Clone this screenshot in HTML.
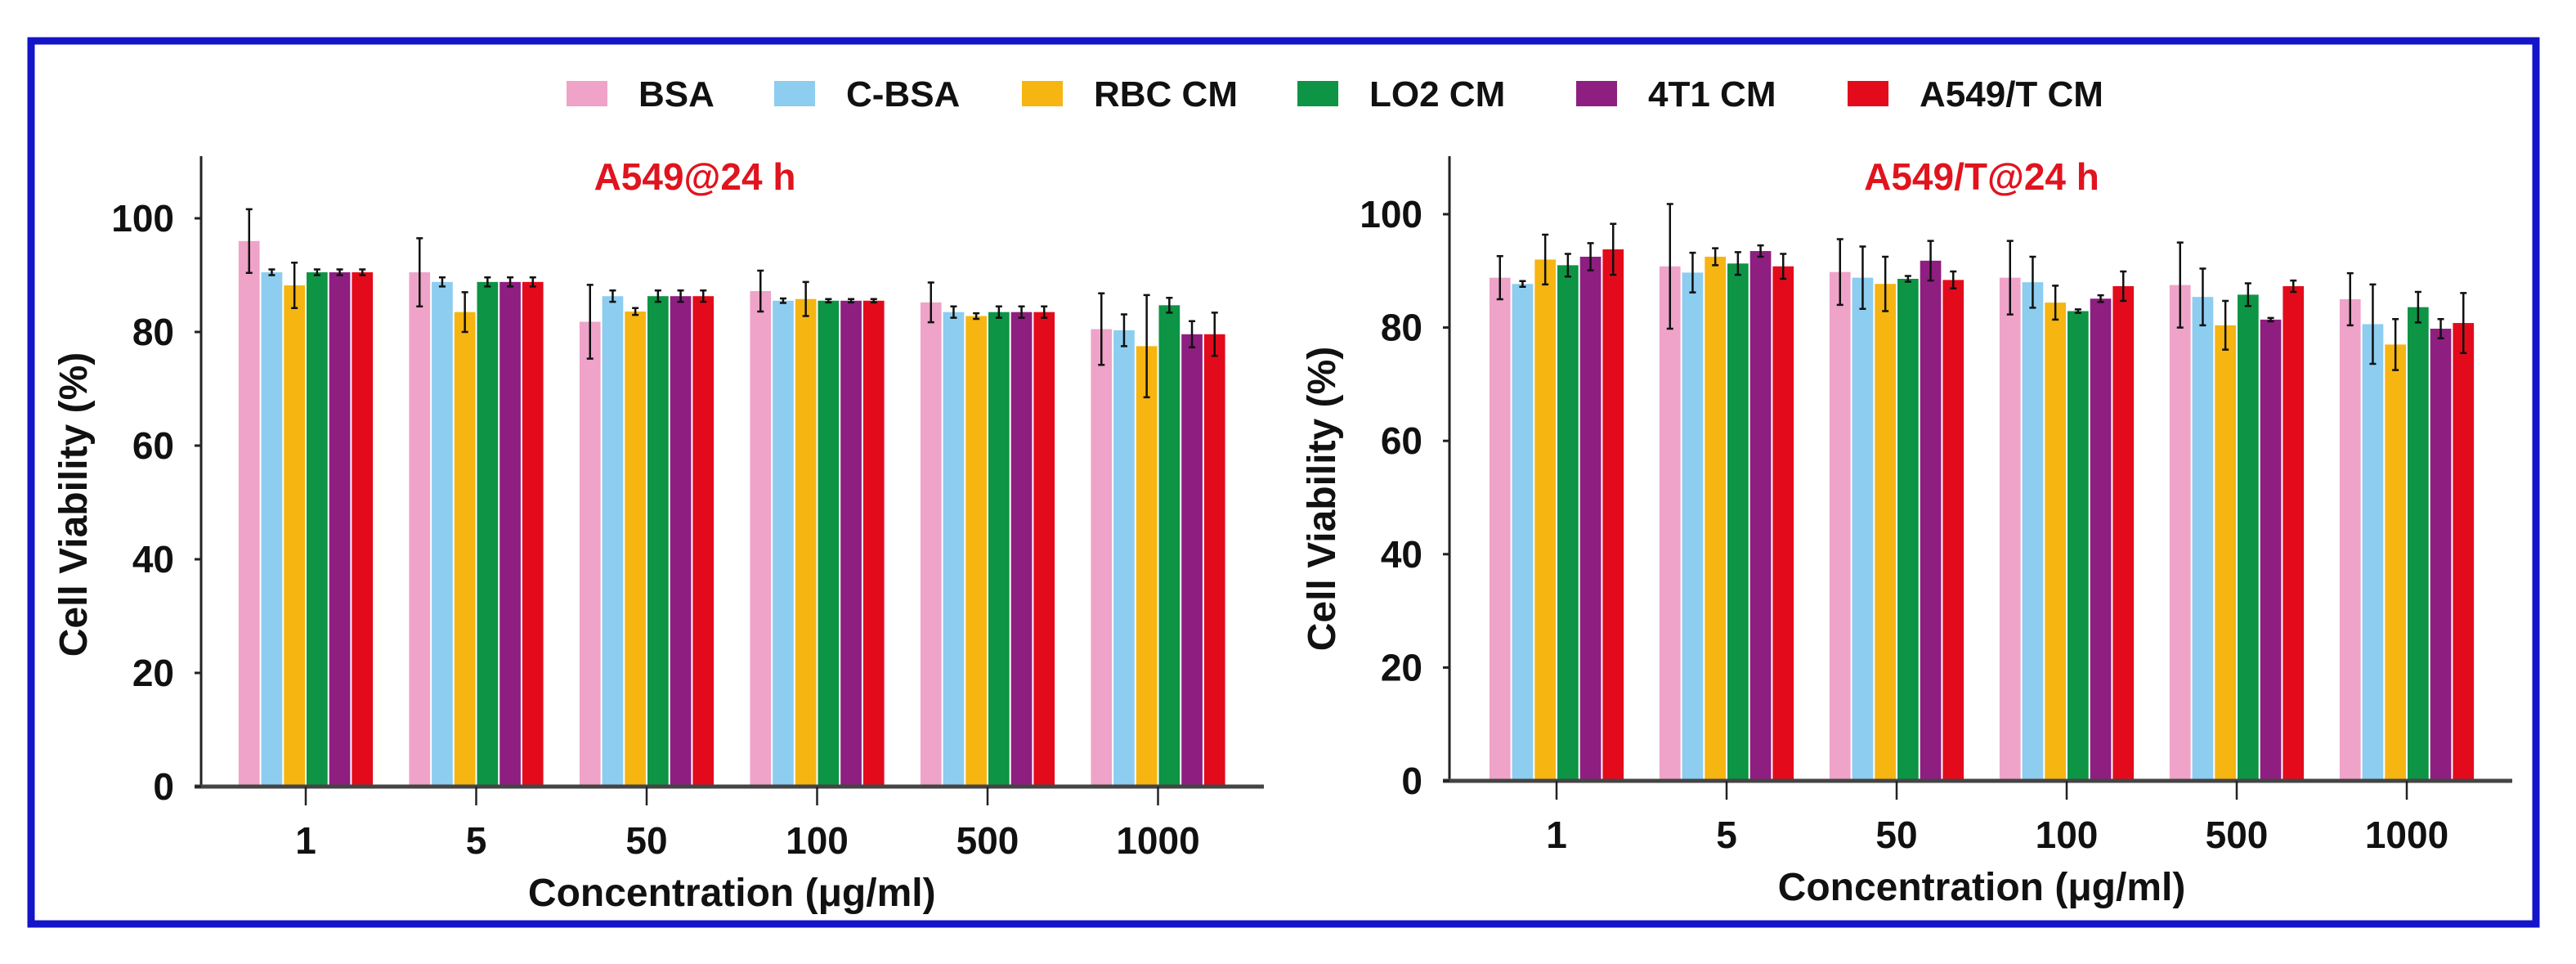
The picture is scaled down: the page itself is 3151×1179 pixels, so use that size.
<!DOCTYPE html>
<html><head><meta charset="utf-8"><style>
html,body{margin:0;padding:0;background:#fff;}
svg{display:block;font-family:"Liberation Sans",sans-serif;font-weight:bold;}
</style></head><body>
<svg id="fig" width="3151" height="1179" viewBox="0 0 3151 1179" xmlns="http://www.w3.org/2000/svg">
<rect x="38" y="50" width="3064" height="1080" fill="none" stroke="#1414c8" stroke-width="9"/>
<g id="legend"></g>
<g id="left"></g>
<g id="right"></g>
</svg>
<script>
const seriesNames = ["BSA","C-BSA","RBC CM","LO2 CM","4T1 CM","A549/T CM"];
const seriesColors = ["#efa3c8","#8dcdf0","#f7b512","#0d9444","#8e1f80","#e30b1b"];
const categories = ["1","5","50","100","500","1000"];
const yTicks = [0,20,40,60,80,100];
// A549@24 h: rows = series, cols = categories
const leftValues = [
 [96,90.5,81.8,87.2,85.2,80.5],
 [90.5,88.8,86.3,85.5,83.5,80.3],
 [88.2,83.5,83.6,85.8,82.8,77.5],
 [90.5,88.8,86.3,85.5,83.5,84.7],
 [90.5,88.8,86.3,85.5,83.5,79.6],
 [90.5,88.8,86.3,85.5,83.5,79.6]
];
const leftErrors = [
 [5.6,6,6.5,3.6,3.5,6.3],
 [0.5,0.8,1,0.4,1,2.8],
 [4,3.5,0.6,3,0.5,9],
 [0.5,0.8,1,0.3,1,1.3],
 [0.5,0.8,1,0.3,1,2.3],
 [0.5,0.8,1,0.3,1,3.8]
];
// A549/T@24 h
const rightValues = [
 [88.8,90.8,89.8,88.8,87.5,85],
 [87.7,89.7,88.8,88,85.4,80.6],
 [92,92.5,87.7,84.4,80.4,77],
 [91,91.3,88.6,82.9,85.8,83.6],
 [92.5,93.5,91.8,85.1,81.4,79.8],
 [93.8,90.8,88.4,87.3,87.3,80.8]
];
const rightErrors = [
 [3.8,11,5.8,6.5,7.5,4.6],
 [0.5,3.5,5.5,4.5,5,7],
 [4.4,1.5,4.8,3,4.3,4.5],
 [2,2,0.5,0.3,2,2.7],
 [2.4,1,3.5,0.6,0.3,1.7],
 [4.5,2.2,1.5,2.6,1,5.3]
];
const NS="http://www.w3.org/2000/svg";
function mk(tag,attrs,parent,text){const e=document.createElementNS(NS,tag);for(const k in attrs)e.setAttribute(k,attrs[k]);if(text!==undefined)e.textContent=text;parent.appendChild(e);return e;}

// legend
const lg=document.getElementById('legend');
const legX=[693,947,1250,1587,1928,2260];
seriesNames.forEach((n,i)=>{
  const r=mk('rect',{x:legX[i],y:99,width:50,height:31,fill:seriesColors[i]},lg);
  
  
  const t=mk('text',{x:legX[i]+88,y:130,'font-size':44,fill:'#111'},lg,n);
  
  
});

function panel(g,cfg,values,errors){
  const y=v=>cfg.y0-(v/20)*cfg.step;
  const x=i=>cfg.c0+i*cfg.gap;
  const bw=27.7;
  // title
  const tt=mk('text',{x:cfg.tx,y:232,'font-size':46,fill:'#e0141e','text-anchor':'middle'},g,cfg.title);
  
  
  // bars
  for(let s=0;s<6;s++){for(let c=0;c<6;c++){
    const bx=x(c)-3*bw+s*bw;
    const b=mk('rect',{x:bx+1,y:y(values[s][c]),width:bw-2,height:cfg.y0-y(values[s][c]),fill:seriesColors[s]},g);
    
    
    const cx=bx+bw/2,hi=y(values[s][c]+errors[s][c]),lo=y(values[s][c]-errors[s][c]);
    const e=mk('path',{d:`M${cx},${hi}V${lo}M${cx-4},${hi}H${cx+4}M${cx-4},${lo}H${cx+4}`,stroke:'#111','stroke-width':2.5,fill:'none'},g);
    
    
  }}
  // axes
  const ya=mk('line',{x1:cfg.ax,y1:191,x2:cfg.ax,y2:cfg.y0,stroke:'#222','stroke-width':3},g);
  
  
  const xa=mk('line',{x1:cfg.ax-8,y1:cfg.y0,x2:cfg.ax+1300,y2:cfg.y0,stroke:'#444','stroke-width':5},g);
  
  
  yTicks.forEach(v=>{
    mk('line',{x1:cfg.ax-8,y1:y(v),x2:cfg.ax,y2:y(v),stroke:'#222','stroke-width':3},g);
    const t=mk('text',{x:cfg.ax-33,y:y(v)+16,'font-size':46,'text-anchor':'end',fill:'#111'},g,String(v));
    
    
  });
  categories.forEach((c,i)=>{
    mk('line',{x1:x(i),y1:cfg.y0,x2:x(i),y2:cfg.y0+23,stroke:'#222','stroke-width':2.5},g);
    const t=mk('text',{x:x(i),y:cfg.y0+82,'font-size':46,'text-anchor':'middle',fill:'#111'},g,c);
    
    
  });
  const xt=mk('text',{x:cfg.c0+2.5*cfg.gap,y:cfg.y0+146,'font-size':48,'text-anchor':'middle',fill:'#111'},g,'Concentration (μg/ml)');
  
  
  const yt=mk('text',{x:0,y:0,'font-size':48,'text-anchor':'middle',fill:'#111',transform:`translate(${cfg.ax-140},${cfg.y0-345}) rotate(-90)`},g,'Cell Viability (%)');
  
  
}
panel(document.getElementById('left'),{ax:246,y0:962,step:139,c0:374,gap:208.5,tx:850,title:'A549@24 h'},leftValues,leftErrors);
panel(document.getElementById('right'),{ax:1773,y0:955,step:138.6,c0:1904,gap:208,tx:2424,title:'A549/T@24 h'},rightValues,rightErrors);
</script>
</body></html>
